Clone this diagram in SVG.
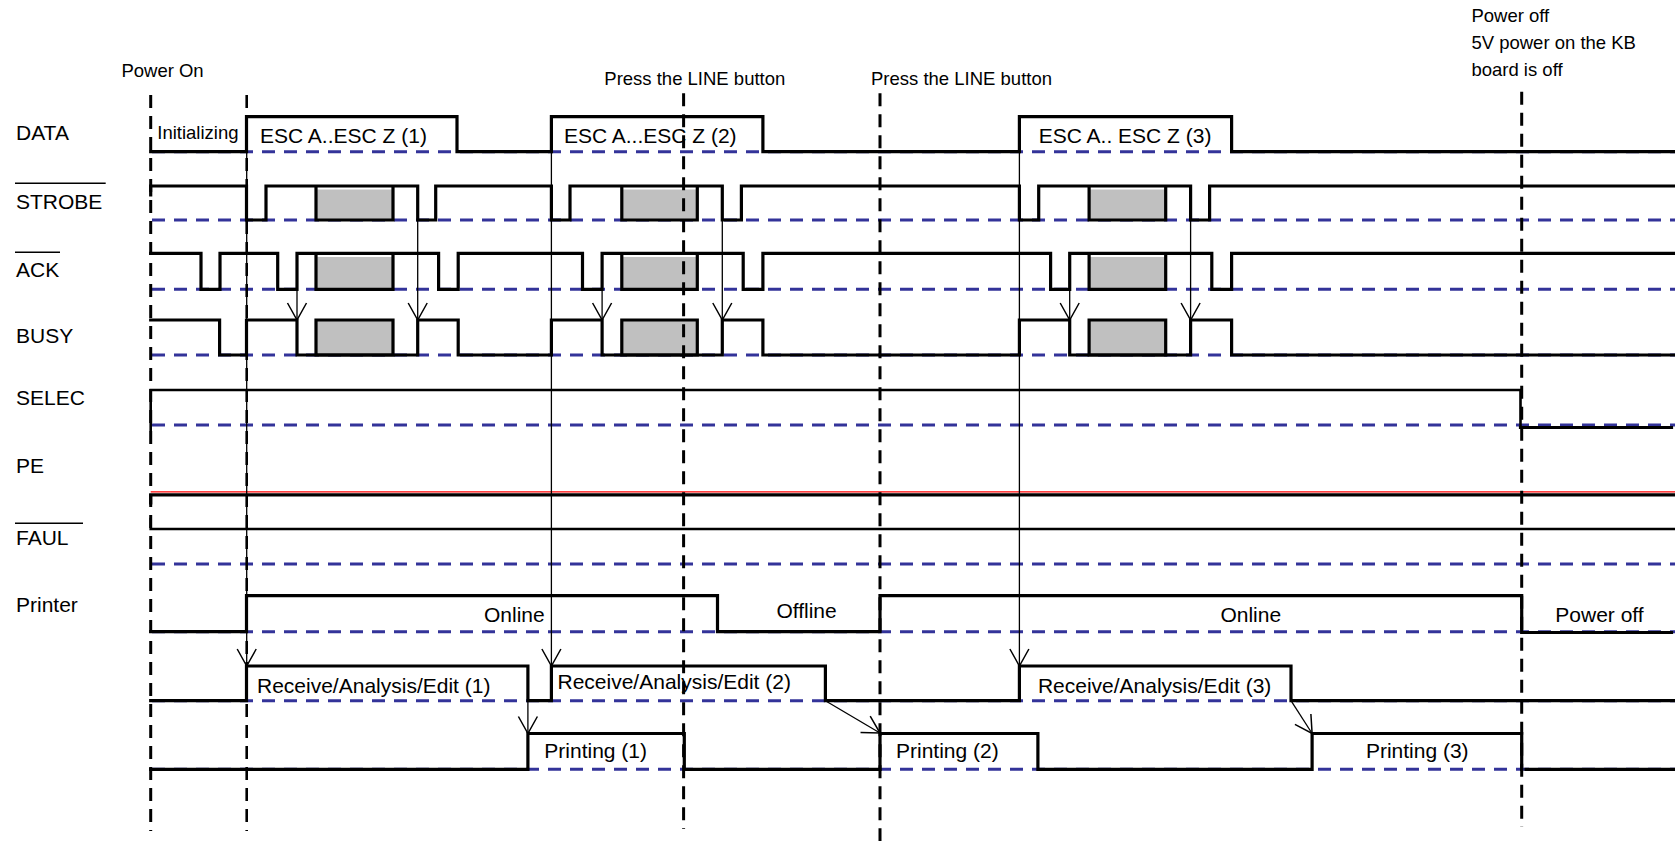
<svg xmlns="http://www.w3.org/2000/svg" width="1675" height="841" viewBox="0 0 1675 841">
<style>
text{font-family:"Liberation Sans",Arial,sans-serif;fill:#000}
.lbl{font-size:21px}
.ann{font-size:18.5px}
.st{font-size:21px}
.sig{fill:none;stroke:#000;stroke-width:3.2;stroke-linejoin:miter;stroke-linecap:square}
.sig2{fill:none;stroke:#000;stroke-width:2.6;stroke-linecap:square}
.base{stroke:#333399;stroke-width:3;stroke-dasharray:13 9;fill:none}
.vd{stroke:#000;stroke-width:3;stroke-dasharray:13 8;fill:none}
.ov{stroke:#000;stroke-width:1.6}
.gray{fill:#c0c0c0;stroke:none}
.bx{fill:none;stroke:#000;stroke-width:3.2}
.arr{fill:none;stroke:#000;stroke-width:1.3;marker-end:url(#v)}
</style>
<defs>
<marker id="v" markerUnits="userSpaceOnUse" markerWidth="22" markerHeight="24" viewBox="-19 -12 22 24" refX="0" refY="0" orient="auto" overflow="visible">
<path d="M-17,-9.5 L0,0 L-17,9.5" fill="none" stroke="#000" stroke-width="1.5"/>
</marker>
</defs>
<rect width="1675" height="841" fill="#fff"/>

<g id="baselines">
<path class="base" d="M152,151.7H1675M152,220H1675M152,289.3H1675M152,355H1675M152,425H1675M152,564H1675M152,631.7H1675M152,700.7H1675M152,769.3H1675"/>
</g>

<g id="sig-data">
<text class="lbl" x="16" y="140">DATA</text>
<path class="sig" d="M150.7,151.7H246.5V116.7H457V151.7H551.4V116.7H762.9V151.7H1019.4V116.7H1231.6V151.7H1675"/>
<text class="ann" x="157.3" y="139.3">Initializing</text>
<text class="st" x="260" y="142.7">ESC A..ESC Z (1)</text>
<text class="st" x="563.9" y="142.7">ESC A...ESC Z (2)</text>
<text class="st" x="1038.7" y="142.7">ESC A.. ESC Z (3)</text>
</g>

<g id="sig-strobe">
<text class="lbl" x="16" y="209">STROBE</text>
<line class="ov" x1="15" y1="183.3" x2="105.7" y2="183.3"/>
<rect class="gray" x="316" y="189.5" width="77" height="30.5"/>
<rect class="gray" x="621.8" y="189.5" width="75.5" height="30.5"/>
<rect class="gray" x="1089.1" y="189.5" width="76.6" height="30.5"/>
<path class="sig" d="M150.7,195V186H246.5V220H266V186H417.7V220H435.7V186H551.4V220H570V186H722.3V220H741.4V186H1019.4V220H1038.7V186H1190.6V220H1209.6V186H1675"/>
<path class="bx" d="M316,186V220H393V186M621.8,186V220H697.3V186M1089.1,186V220H1165.7V186"/>
</g>

<g id="sig-ack">
<text class="lbl" x="16" y="276.7">ACK</text>
<line class="ov" x1="15" y1="252.3" x2="60" y2="252.3"/>
<rect class="gray" x="316" y="257" width="77" height="32.3"/>
<rect class="gray" x="621.8" y="257" width="75.5" height="32.3"/>
<rect class="gray" x="1089.1" y="257" width="76.6" height="32.3"/>
<path class="sig" d="M150.7,253.3H201V289.3H220V253.3H277.7V289.3H297V253.3H438.6V289.3H458.2V253.3H582.5V289.3H602.1V253.3H743.2V289.3H762.9V253.3H1050.6V289.3H1069.7V253.3H1211.8V289.3H1231.6V253.3H1675"/>
<path class="bx" d="M316,253.3V289.3H393V253.3M621.8,253.3V289.3H697.3V253.3M1089.1,253.3V289.3H1165.7V253.3"/>
</g>

<g id="sig-busy">
<text class="lbl" x="16" y="342.7">BUSY</text>
<rect class="gray" x="316" y="320" width="77" height="35"/>
<rect class="gray" x="621.8" y="320" width="75.5" height="35"/>
<rect class="gray" x="1089.1" y="320" width="76.6" height="35"/>
<path class="sig" d="M150.7,320H219.6V355H246.5V320H297V355H417.7V320H458.2V355H551.4V320H602.1V355H722.3V320H762.9V355H1019.4V320H1069.7V355H1190.6V320H1231.6V355H1675"/>
<path class="bx" d="M316,320H393V355H316ZM621.8,320H697.3V355H621.8ZM1089.1,320H1165.7V355H1089.1Z"/>
</g>

<g id="sig-selec">
<text class="lbl" x="16" y="405">SELEC</text>
<path class="sig2" d="M150.7,430V390H1520.5V427.5"/>
<path class="sig" d="M1520.5,427.5H1671.5"/>
</g>

<g id="sig-pe">
<text class="lbl" x="16" y="473.3">PE</text>
<path class="sig" d="M150.7,503V494.8H1675"/>
<line x1="150.7" y1="491.8" x2="1675" y2="491.8" stroke="#ff0000" stroke-width="1.2"/>
</g>

<g id="sig-faul">
<text class="lbl" x="16" y="545">FAUL</text>
<line class="ov" x1="15" y1="523.3" x2="83" y2="523.3"/>
<path class="sig2" d="M150.7,519V529H1675"/>
</g>

<g id="sig-printer">
<text class="lbl" x="16" y="611.7">Printer</text>
<path class="sig" d="M150.7,631.7H246.5V595.7H717.5V631.7H880V595.7H1521.7V632.5H1671.5"/>
<text class="st" x="484" y="621.7">Online</text>
<text class="st" x="776.4" y="618.3">Offline</text>
<text class="st" x="1220.4" y="621.7">Online</text>
<text class="st" x="1555.3" y="621.7">Power off</text>
</g>

<g id="sig-receive">
<path class="sig" d="M150.7,700.7H246.5V666H527.9V700.7H551.4V666H825.4V700.7H1019.4V666H1291V700.7H1675"/>
<text class="st" x="257" y="693.3">Receive/Analysis/Edit (1)</text>
<text class="st" x="557.5" y="689">Receive/Analysis/Edit (2)</text>
<text class="st" x="1037.9" y="692.7">Receive/Analysis/Edit (3)</text>
</g>

<g id="sig-printing">
<path class="sig" d="M150.7,769.3H527.9V733.5H684.3V769.3H880V733.5H1037.9V769.3H1312.1V733.5H1521.7V769.3M1526,769.3H1675"/>
<text class="st" x="544.3" y="758.3">Printing (1)</text>
<text class="st" x="896" y="758.3">Printing (2)</text>
<text class="st" x="1365.9" y="758.3">Printing (3)</text>
</g>

<g id="events">
<text class="ann" x="121.4" y="77.3">Power On</text>
<text class="ann" x="604.3" y="85">Press the LINE button</text>
<text class="ann" x="871" y="85">Press the LINE button</text>
<text class="ann" x="1471.4" y="21.7">Power off</text>
<text class="ann" x="1471.4" y="49.3">5V power on the KB</text>
<text class="ann" x="1471.4" y="76">board is off</text>
<line class="vd" x1="150.7" y1="95" x2="150.7" y2="831"/>
<line class="vd" x1="246.7" y1="95" x2="246.7" y2="831" style="stroke-width:2.6"/>
<line class="vd" x1="683.6" y1="93.3" x2="683.6" y2="829"/>
<line class="vd" x1="880" y1="93.3" x2="880" y2="841"/>
<line class="vd" x1="1521.7" y1="91.7" x2="1521.7" y2="827"/>
</g>

<g id="connectors">
<line class="arr" x1="246.7" y1="117" x2="246.7" y2="666"/>
<line class="arr" x1="551.4" y1="117" x2="551.4" y2="666"/>
<line class="arr" x1="1019.4" y1="117" x2="1019.4" y2="666"/>
<line class="arr" x1="297" y1="289.3" x2="297" y2="320"/>
<line class="arr" x1="602.1" y1="289.3" x2="602.1" y2="320"/>
<line class="arr" x1="1069.7" y1="289.3" x2="1069.7" y2="320"/>
<line class="arr" x1="417.7" y1="220" x2="417.7" y2="320"/>
<line class="arr" x1="722.3" y1="220" x2="722.3" y2="320"/>
<line class="arr" x1="1190.6" y1="220" x2="1190.6" y2="320"/>
<line class="arr" x1="527.9" y1="700.7" x2="527.9" y2="733.5"/>
<line class="arr" x1="825.4" y1="700.7" x2="880" y2="733"/>
<line class="arr" x1="1291" y1="700.7" x2="1312.1" y2="733.5"/>
</g>
</svg>
